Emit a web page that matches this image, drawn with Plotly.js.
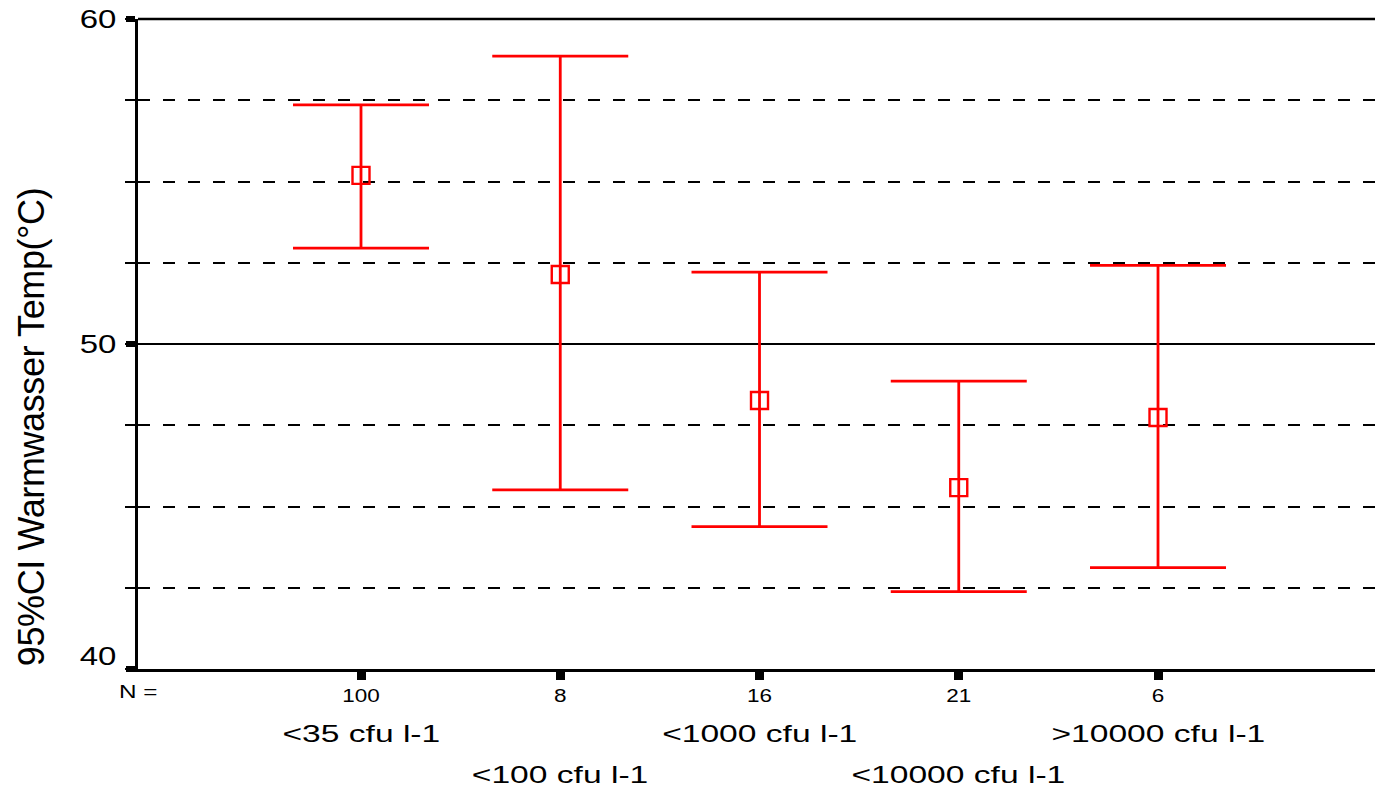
<!DOCTYPE html>
<html>
<head>
<meta charset="utf-8">
<script src="https://cdn.plot.ly/plotly-3.0.1.min.js"></script>
<style>
  html, body { margin: 0; padding: 0; background: #fff; }
  #chart { width: 1375px; height: 788px; }
  /* the reference text is horizontally stretched; reproduce that look */
  g.ytick, g.xtick {
    transform-box: fill-box; transform-origin: center;
  }
  g.ytick { transform: scaleX(1.32); }
  /* lowest y label sits just above the x axis in the reference */
  g.ytick text[data-unformatted="40"] { translate: 0px -13px; }
  g.xtick { transform: scaleX(1.25); }
  .annotation:not([data-index="0"]) .annotation-text {
    transform-box: fill-box; transform-origin: center; transform: scaleX(1.4);
  }
  .annotation[data-index="1"] .annotation-text { transform: scaleX(1.35); }
  .annotation[data-index="0"] .annotation-text { letter-spacing: -0.4px; }
</style>
</head>
<body>
<div id="chart"></div>
<script>
// ---- data ----
const categories = ["<35 cfu l-1", "<100 cfu l-1", "<1000 cfu l-1", "<10000 cfu l-1", ">10000 cfu l-1"];
const counts = ["100", "8", "16", "21", "6"];
const means = [55.19, 52.14, 48.26, 45.58, 47.74];
const upper = [57.36, 58.86, 52.21, 48.86, 52.42];
const lower = [52.95, 45.51, 44.38, 42.38, 43.12];
const yTickVals = [40, 50, 60];
const yTitle = "95%CI Warmwasser Temp(°C)";
const nLabel = "N =";

const xs = categories.map((c, i) => i + 1);
const plus = upper.map((u, i) => u - means[i]);
const minus = lower.map((l, i) => means[i] - l);

const FONT = "Liberation Sans, Arial, sans-serif";

const trace = {
  type: "scatter",
  mode: "markers",
  x: xs,
  y: means,
  marker: { symbol: "square-open", size: 17, color: "#ff0000", line: { color: "#ff0000", width: 2.4 } },
  error_y: {
    type: "data", symmetric: false, array: plus, arrayminus: minus,
    color: "#ff0000", thickness: 2.8, width: 68
  },
  hoverinfo: "skip",
  showlegend: false
};

const annotations = [
  { text: yTitle, xref: "paper", yref: "paper", x: -0.0865, y: 0.372, textangle: -90,
    xanchor: "center", yanchor: "middle", showarrow: false,
    font: { family: FONT, size: 36, color: "#000" } },
  { text: nLabel, xref: "paper", yref: "paper", x: 0.0, y: -0.0354,
    xanchor: "center", yanchor: "middle", showarrow: false,
    font: { family: FONT, size: 18, color: "#000" } }
];
categories.forEach((c, i) => {
  annotations.push({
    text: c, xref: "x", yref: "paper", x: xs[i], y: (i % 2 === 0) ? -0.0985 : -0.163,
    xanchor: "center", yanchor: "middle", showarrow: false,
    font: { family: FONT, size: 24, color: "#000" }
  });
});

const layout = {
  width: 1375, height: 788,
  margin: { l: 138, r: 0, t: 19, b: 119 },
  paper_bgcolor: "#fff", plot_bgcolor: "#fff",
  font: { family: FONT, color: "#000" },
  xaxis: {
    range: [-0.1192, 6.089], zeroline: false, showgrid: false,
    showline: true, linecolor: "#000", linewidth: 3,
    tickmode: "array", tickvals: xs, ticktext: counts,
    ticks: "outside", ticklen: 8, tickwidth: 9, tickcolor: "#000",
    tickfont: { size: 18, color: "#000" }
  },
  yaxis: {
    range: [40, 60], zeroline: false,
    showline: true, linecolor: "#000", linewidth: 3,
    tickmode: "array", tickvals: yTickVals,
    ticks: "outside", ticklen: 9, tickwidth: 6, tickcolor: "#000",
    ticklabelstandoff: 9,
    tickfont: { size: 25, color: "#000" },
    showgrid: true, gridcolor: "#000", gridwidth: 2,
    minor: { dtick: 2.5, tick0: 40, showgrid: true, gridcolor: "#000", gridwidth: 2,
             griddash: "12px,13px", ticks: "outside", ticklen: 10, tickwidth: 2, tickcolor: "#000" }
  },
  shapes: [
    { type: "line", xref: "paper", yref: "paper", x0: 0, x1: 1, y0: 1, y1: 1,
      line: { color: "#000", width: 2.5 } }
  ],
  annotations: annotations
};

Plotly.newPlot("chart", [trace], layout, { displayModeBar: false, staticPlot: true });
</script>
</body>
</html>
